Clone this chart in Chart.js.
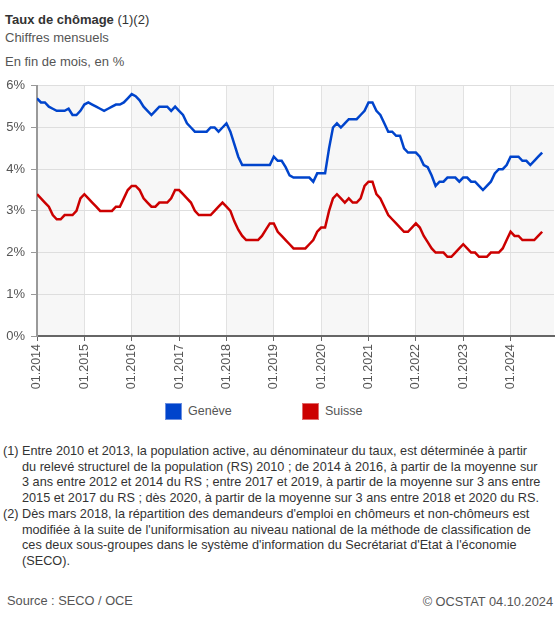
<!DOCTYPE html>
<html>
<head>
<meta charset="utf-8">
<script src="https://cdn.jsdelivr.net/npm/chart.js@4.4.1/dist/chart.umd.min.js"></script>
<style>
  body { margin: 0; background: #fff; font-family: "Liberation Sans", Arial, sans-serif; }
  #page { position: relative; width: 557px; height: 618px; overflow: hidden; }
  .txt { position: absolute; white-space: nowrap; }
  #title { left: 5px; top: 12px; font-size: 13px; color: #333; }
  #title b { font-weight: bold; }
  #sub { left: 5px; top: 30px; font-size: 13px; color: #555; }
  #unit { left: 5px; top: 54px; font-size: 13px; color: #555; }
  #chartBox { position: absolute; left: 0; top: 72px; width: 557px; height: 323px; }
  .leg { position: absolute; top: 403px; font-size: 12.5px; color: #555; }
  .leg span { position: absolute; top: 0; width: 15px; height: 15px; }
  .leg em { position: absolute; top: 1px; font-style: normal; }
  #notes { position: absolute; left: 3px; top: 444px; font-size: 12.7px; line-height: 15.7px; color: #333; }
  #notes div { padding-left: 19px; text-indent: -19px; white-space: nowrap; }
  #src { left: 7px; top: 593px; font-size: 12.8px; color: #555; }
  #copy { right: 4px; top: 594px; font-size: 12.8px; color: #555; }
</style>
</head>
<body>
<div id="page">
  <div class="txt" id="title"><b>Taux de chômage</b> (1)(2)</div>
  <div class="txt" id="sub">Chiffres mensuels</div>
  <div class="txt" id="unit">En fin de mois, en %</div>
  <div id="chartBox"><canvas id="chomage" width="557" height="323"></canvas></div>
  <div id="legend"></div>
  <div id="notes">
    <div>(1) Entre 2010 et 2013, la population active, au dénominateur du taux, est déterminée à partir<br>du relevé structurel de la population (RS) 2010 ; de 2014 à 2016, à partir de la moyenne sur<br>3 ans entre 2012 et 2014 du RS ; entre 2017 et 2019, à partir de la moyenne sur 3 ans entre<br>2015 et 2017 du RS ; dès 2020, à partir de la moyenne sur 3 ans entre 2018 et 2020 du RS.</div>
    <div>(2) Dès mars 2018, la répartition des demandeurs d'emploi en chômeurs et non-chômeurs est<br>modifiée à la suite de l'uniformisation au niveau national de la méthode de classification de<br>ces deux sous-groupes dans le système d'information du Secrétariat d'Etat à l'économie<br>(SECO).</div>
  </div>
  <div class="txt" id="src">Source : SECO / OCE</div>
  <div class="txt" id="copy">© OCSTAT 04.10.2024</div>
</div>
<script>
// monthly values, 01.2014 -> 09.2024 (one per month)
const seriesNames = ['Genève', 'Suisse'];
const seriesColors = ['#0044cc', '#cc0000'];

const geneve = [
  5.7, 5.6, 5.6, 5.5, 5.45, 5.4, 5.4, 5.4, 5.45, 5.3, 5.3, 5.4,      // 2014
  5.55, 5.6, 5.55, 5.5, 5.45, 5.4, 5.45, 5.5, 5.55, 5.55, 5.6, 5.7,  // 2015
  5.8, 5.75, 5.65, 5.5, 5.4, 5.3, 5.4, 5.5, 5.5, 5.5, 5.4, 5.5,      // 2016
  5.4, 5.3, 5.1, 5.0, 4.9, 4.9, 4.9, 4.9, 5.0, 5.0, 4.9, 5.0,        // 2017
  5.1, 4.9, 4.6, 4.3, 4.1, 4.1, 4.1, 4.1, 4.1, 4.1, 4.1, 4.1,        // 2018
  4.3, 4.2, 4.2, 4.05, 3.85, 3.8, 3.8, 3.8, 3.8, 3.8, 3.7, 3.9,      // 2019
  3.9, 3.9, 4.5, 5.0, 5.1, 5.0, 5.1, 5.2, 5.2, 5.2, 5.3, 5.4,        // 2020
  5.6, 5.6, 5.4, 5.3, 5.1, 4.9, 4.9, 4.8, 4.8, 4.5, 4.4, 4.4,        // 2021
  4.4, 4.3, 4.1, 4.05, 3.85, 3.6, 3.7, 3.7, 3.8, 3.8, 3.8, 3.7,      // 2022
  3.8, 3.8, 3.7, 3.7, 3.6, 3.5, 3.6, 3.7, 3.9, 4.0, 4.0, 4.1,        // 2023
  4.3, 4.3, 4.3, 4.2, 4.2, 4.1, 4.2, 4.3, 4.4                        // 2024
];
const suisse = [
  3.4, 3.3, 3.2, 3.1, 2.9, 2.8, 2.8, 2.9, 2.9, 2.9, 3.0, 3.3,        // 2014
  3.4, 3.3, 3.2, 3.1, 3.0, 3.0, 3.0, 3.0, 3.1, 3.1, 3.3, 3.5,        // 2015
  3.6, 3.6, 3.5, 3.3, 3.2, 3.1, 3.1, 3.2, 3.2, 3.2, 3.3, 3.5,        // 2016
  3.5, 3.4, 3.3, 3.2, 3.0, 2.9, 2.9, 2.9, 2.9, 3.0, 3.1, 3.2,        // 2017
  3.1, 3.0, 2.75, 2.55, 2.4, 2.3, 2.3, 2.3, 2.3, 2.4, 2.55, 2.7,     // 2018
  2.7, 2.5, 2.4, 2.3, 2.2, 2.1, 2.1, 2.1, 2.1, 2.2, 2.3, 2.5,        // 2019
  2.6, 2.6, 3.0, 3.3, 3.4, 3.3, 3.2, 3.3, 3.2, 3.2, 3.3, 3.6,        // 2020
  3.7, 3.7, 3.4, 3.3, 3.1, 2.9, 2.8, 2.7, 2.6, 2.5, 2.5, 2.6,        // 2021
  2.7, 2.6, 2.4, 2.25, 2.1, 2.0, 2.0, 2.0, 1.9, 1.9, 2.0, 2.1,       // 2022
  2.2, 2.1, 2.0, 2.0, 1.9, 1.9, 1.9, 2.0, 2.0, 2.0, 2.1, 2.3,        // 2023
  2.5, 2.4, 2.4, 2.3, 2.3, 2.3, 2.3, 2.4, 2.5                        // 2024
];
const xTickLabels = ['01.2014', '01.2015', '01.2016', '01.2017', '01.2018', '01.2019',
  '01.2020', '01.2021', '01.2022', '01.2023', '01.2024'];
const yTickLabels = ['0%', '1%', '2%', '3%', '4%', '5%', '6%'];

const MONTHS_SHOWN = 131; // axis runs a bit past the last month

function toPoints(arr) {
  return arr.map((v, i) => ({ x: i, y: v }));
}

// grey band on every other year, behind the grid
const yearBands = {
  id: 'yearBands',
  beforeDraw(chart) {
    const { ctx, chartArea, scales } = chart;
    ctx.save();
    ctx.fillStyle = '#f7f7f7';
    for (let k = 0; k * 12 < MONTHS_SHOWN; k += 2) {
      const x0 = Math.max(scales.x.getPixelForValue(k * 12), chartArea.left);
      const x1 = Math.min(scales.x.getPixelForValue((k + 1) * 12), chartArea.right);
      ctx.fillRect(x0, chartArea.top, x1 - x0, chartArea.bottom - chartArea.top);
    }
    ctx.restore();
  }
};

const ctx = document.getElementById('chomage').getContext('2d');
new Chart(ctx, {
  type: 'line',
  plugins: [yearBands],
  data: {
    datasets: [geneve, suisse].map((arr, n) => ({
      label: seriesNames[n],
      data: toPoints(arr),
      borderColor: seriesColors[n],
      backgroundColor: seriesColors[n],
      borderWidth: 2.5,
      pointRadius: 0,
      tension: 0
    }))
  },
  options: {
    responsive: false,
    animation: false,
    layout: { padding: { top: 5, right: 3, left: 0, bottom: 0 } },
    plugins: {
      legend: { display: false },
      tooltip: { enabled: false }
    },
    scales: {
      x: {
        type: 'linear',
        min: 0,
        max: MONTHS_SHOWN,
        afterFit: (s) => { s.height = 59; },
        grid: { color: '#e2e2e2', tickColor: '#666', tickLength: 5 },
        border: { color: '#666', width: 2 },
        ticks: {
          stepSize: 12,
          includeBounds: false,
          autoSkip: false,
          minRotation: 90,
          maxRotation: 90,
          padding: 3,
          color: '#555',
          font: { family: 'Liberation Sans', size: 12.5 },
          callback: (v) => (v % 12 === 0 ? xTickLabels[v / 12] : null)
        }
      },
      y: {
        min: 0,
        max: 6,
        afterFit: (s) => { s.width = 37; },
        grid: { color: '#dedede', tickColor: '#999', tickLength: 6 },
        border: { color: '#999', width: 2 },
        ticks: {
          stepSize: 1,
          padding: 6,
          color: '#555',
          font: { family: 'Liberation Sans', size: 13 },
          callback: (v) => yTickLabels[v]
        }
      }
    }
  }
});

// legend under the axis
function legend() {
  const box = document.getElementById('legend');
  const lefts = [165, 302];
  seriesNames.forEach((name, n) => {
    const item = document.createElement('div');
    item.className = 'leg';
    item.style.left = lefts[n] + 'px';
    item.innerHTML = '<span style="background:' + seriesColors[n] + ';border:1px solid ' +
      (n === 0 ? '#6b8fe0' : '#e06b6b') + '"></span><em style="left:23px">' + name + '</em>';
    box.appendChild(item);
  });
}
legend();
</script>
</body>
</html>
